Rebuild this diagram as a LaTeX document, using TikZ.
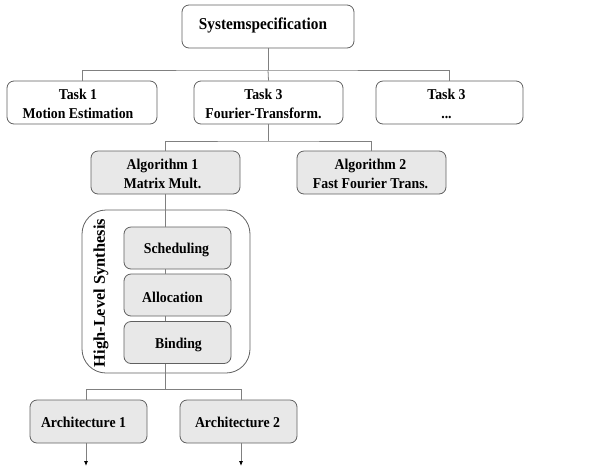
\documentclass[tikz,border=0pt]{standalone}
\usepackage{fontspec}
\setmainfont{Liberation Serif}
\newfontfamily\narrowserif[FakeStretch=0.92]{Liberation Serif}
\usetikzlibrary{arrows.meta}
\definecolor{boxline}{HTML}{606060}
\definecolor{boxfill}{HTML}{E8E8E8}
\definecolor{conn}{HTML}{808080}
\begin{document}
\begin{tikzpicture}[x=1pt,y=-1pt,
  plainbox/.style={draw=boxline, line width=0.8pt, rounded corners=7pt, fill=white, inner sep=0pt},
  graybox/.style={plainbox, fill=boxfill},
  lbl/.style={align=center, inner sep=0pt, font=\narrowserif\bfseries\fontsize{15}{19}\selectfont},
  conline/.style={draw=conn, line width=0.8pt},
  arr/.style={conline, -{Latex[length=5pt,width=4pt,black]}}]
\useasboundingbox (0,0) rectangle (605,467);
% container
\node[draw=boxline, line width=0.8pt, rounded corners=24pt, fill=white,
  minimum width=168pt, minimum height=163pt, inner sep=0pt] (hls) at (166,291.5) {};
\node[rotate=90, font=\bfseries\fontsize{16.4}{19}\selectfont, inner sep=0pt] (hlslabel) at (101,293) {High-Level Synthesis};
% nodes
\node[plainbox, minimum width=172pt, minimum height=43pt,
  label={[lbl, font=\narrowserif\bfseries\fontsize{16.6}{19}\selectfont, xshift=-5pt, yshift=1pt]center:{Systemspecification}}] (sys) at (268,26.5) {};
\node[plainbox, minimum width=150pt, minimum height=43pt,
  label={[lbl, xshift=-4pt, yshift=-1pt]center:{Task 1\\Motion Estimation}}] (t1) at (82,102.5) {};
\node[plainbox, minimum width=149pt, minimum height=43pt,
  label={[lbl, xshift=-5pt, yshift=-1pt]center:{Task 3\\Fourier-Transform.}}] (t3) at (268.5,102.5) {};
\node[plainbox, minimum width=147pt, minimum height=43pt,
  label={[lbl, xshift=-3pt, yshift=-1pt]center:{Task 3\\...}}] (t3b) at (449.5,102.5) {};
\node[graybox, minimum width=149pt, minimum height=43pt,
  label={[lbl, xshift=-3pt, yshift=-1pt]center:{Algorithm 1\\Matrix Mult.}}] (a1) at (165.5,172.5) {};
\node[graybox, minimum width=149pt, minimum height=43pt,
  label={[lbl, xshift=-1pt, yshift=-1pt]center:{Algorithm 2\\Fast Fourier Trans.}}] (a2) at (371.5,172.5) {};
\node[graybox, minimum width=107pt, minimum height=42pt,
  label={[lbl, xshift=-1pt, yshift=-2pt]center:{Scheduling}}] (sch) at (177.5,248) {};
\node[graybox, minimum width=107pt, minimum height=42pt,
  label={[lbl, xshift=-5pt, yshift=-2pt]center:{Allocation}}] (all) at (177.5,295) {};
\node[graybox, minimum width=107pt, minimum height=42pt,
  label={[lbl, xshift=1pt, yshift=-2pt]center:{Binding}}] (bin) at (177.5,342.5) {};
\node[graybox, minimum width=117pt, minimum height=43pt,
  label={[lbl, xshift=-5pt, yshift=-1pt]center:{Architecture 1}}] (ar1) at (88.5,421.5) {};
\node[graybox, minimum width=117pt, minimum height=43pt,
  label={[lbl, xshift=-1pt, yshift=-1pt]center:{Architecture 2}}] (ar2) at (238.5,421.5) {};
% connectors
\coordinate (j1) at (268,70);
\draw[conline] (sys.south) -- (j1);
\draw[conline] (t1.north) |- (j1) -| (t3b.north);
\draw[conline] (j1) -- (t3.north);
\coordinate (j2) at (268.5,141);
\draw[conline] (t3.south) -- (j2);
\draw[conline] (a1.north) |- (j2) -| (a2.north);
\draw[conline] (a1.south) -- (a1.south |- sch.north);
\draw[conline] (sch.south -| a1.south) -- (all.north -| a1.south);
\draw[conline] (all.south -| a1.south) -- (bin.north -| a1.south);
\coordinate (j3) at (165.5,389);
\draw[conline] (bin.south -| a1.south) -- (j3);
\coordinate (p1) at (86,389);
\coordinate (p2) at (241,389);
\draw[conline] (p1) -- (p2);
\draw[conline] (p1) -- (p1 |- ar1.north);
\draw[conline] (p2) -- (p2 |- ar2.north);
\coordinate (e1) at (86,466);
\coordinate (e2) at (241,466);
\draw[arr] (ar1.south -| e1) -- (e1);
\draw[arr] (ar2.south -| e2) -- (e2);
\end{tikzpicture}
\end{document}
